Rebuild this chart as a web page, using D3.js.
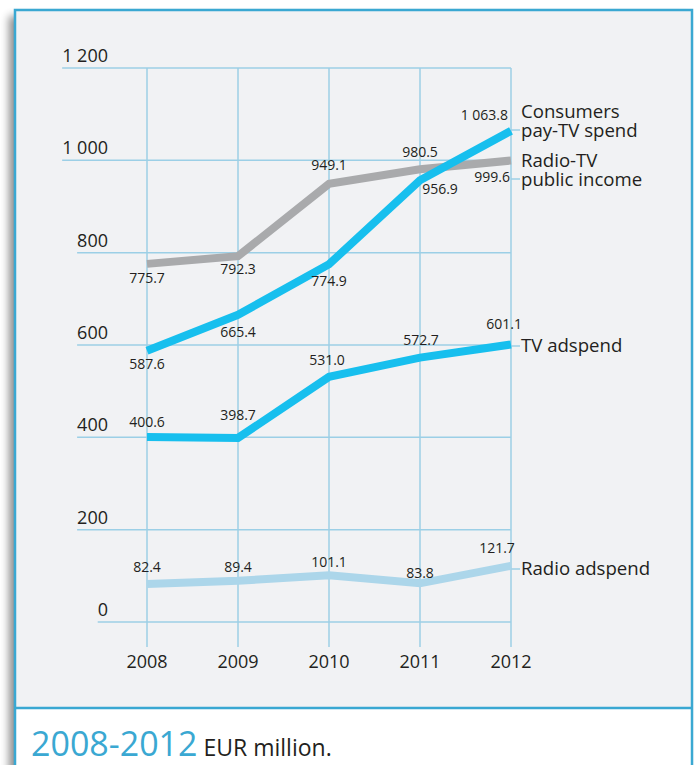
<!DOCTYPE html>
<html>
<head>
<meta charset="utf-8">
<script src="https://cdn.jsdelivr.net/npm/d3@7"></script>
<style>
  html, body { margin: 0; padding: 0; background: #ffffff; }
  svg { display: block; font-family: "Open Sans", "DejaVu Sans", sans-serif; }
</style>
</head>
<body>
<svg id="chart" width="696" height="765"></svg>
<script>
// ---- data ----
const years = [2008, 2009, 2010, 2011, 2012];
const yTicks = [0, 200, 400, 600, 800, 1000, 1200];
const payTV = [587.6, 665.4, 774.9, 956.9, 1063.8];
const publicIncome = [775.7, 792.3, 949.1, 980.5, 999.6];
const tvAdspend = [400.6, 398.7, 531.0, 572.7, 601.1];
const radioAdspend = [82.4, 89.4, 101.1, 83.8, 121.7];
const seriesNames = [["Consumers", "pay-TV spend"], ["Radio-TV", "public income"], ["TV adspend"], ["Radio adspend"]];
const titleMain = "2008-2012";
const titleSub = "EUR million.";

// ---- styles / placement ----
const COL_CYAN = "#17bfee", COL_GRAY = "#a9aaac", COL_LIGHT = "#acd6ea", COL_GRID = "#9ccfe6", COL_BORDER = "#3aa8d2";
const series = [
  { values: publicIncome, color: COL_GRAY, name: seriesNames[1], nameY: 167,
    place: [[0, 19, "middle"], [0, 18, "middle"], [0, -14, "middle"], [0, -12, "middle"], [-1, 21, "end"]] },
  { values: payTV, color: COL_CYAN, name: seriesNames[0], nameY: 118,
    place: [[0, 18, "middle"], [0, 22, "middle"], [0, 22, "middle"], [20, 14, "middle"], [-3, -11, "end"]] },
  { values: tvAdspend, color: COL_CYAN, name: seriesNames[2], nameY: 352,
    place: [[0, -10, "middle"], [0, -18, "middle"], [-2, -12, "middle"], [1, -13, "middle"], [11, -15, "end"]] },
  { values: radioAdspend, color: COL_LIGHT, name: seriesNames[3], nameY: 575,
    place: [[0, -12, "middle"], [0, -9, "middle"], [0, -8, "middle"], [0, -5, "middle"], [-14, -13, "middle"]] }
];

const svg = d3.select("#chart");
const defs = svg.append("defs");
const f = defs.append("filter").attr("id", "shadow").attr("x", "-10%").attr("y", "-10%").attr("width", "120%").attr("height", "120%");
f.append("feGaussianBlur").attr("in", "SourceAlpha").attr("stdDeviation", 4).attr("result", "b");
f.append("feOffset").attr("in", "b").attr("dx", -6).attr("dy", 6).attr("result", "o");
f.append("feComponentTransfer").attr("in", "o").attr("result", "s")
  .append("feFuncA").attr("type", "linear").attr("slope", 0.45);
const m = f.append("feMerge");
m.append("feMergeNode").attr("in", "s");
m.append("feMergeNode").attr("in", "SourceGraphic");

// panel
svg.append("rect").attr("x", 15).attr("y", 10).attr("width", 677).attr("height", 800)
  .attr("fill", "#ffffff").attr("filter", "url(#shadow)");
svg.append("rect").attr("x", 15).attr("y", 10).attr("width", 677).attr("height", 698)
  .attr("fill", "#f1f2f4");
svg.append("rect").attr("x", 15).attr("y", 10).attr("width", 677).attr("height", 800)
  .attr("fill", "none").attr("stroke", COL_BORDER).attr("stroke-width", 2.5);
svg.append("line").attr("x1", 15).attr("x2", 692).attr("y1", 708).attr("y2", 708)
  .attr("stroke", COL_BORDER).attr("stroke-width", 2.5);

// scales
const x = d3.scalePoint().domain(years).range([147, 511]);
const y = d3.scaleLinear().domain([0, 1200]).range([622, 68]);
const loc = d3.formatLocale({ decimal: ".", thousands: " ", grouping: [3], currency: ["", ""] });
const fmt = loc.format(",");
const fmt1 = loc.format(",.1f");

// vertical grid
svg.append("g").selectAll("line").data(years).join("line")
  .attr("x1", d => x(d)).attr("x2", d => x(d)).attr("y1", y(1200)).attr("y2", 647)
  .attr("stroke", COL_GRID).attr("stroke-width", 1.5);

// horizontal grid + tick labels
const tg = svg.append("g");
yTicks.forEach(t => {
  const txt = tg.append("text").attr("x", 108).attr("y", y(t) - 6).attr("text-anchor", "end")
    .attr("font-size", 18).attr("fill", "#231f20").text(fmt(t));
  const bb = txt.node().getBBox();
  tg.insert("line", "text").attr("x1", bb.x).attr("x2", x(2012)).attr("y1", y(t)).attr("y2", y(t))
    .attr("stroke", COL_GRID).attr("stroke-width", 1.5);
});

// year labels
svg.append("g").selectAll("text").data(years).join("text")
  .attr("x", d => x(d)).attr("y", 668).attr("text-anchor", "middle")
  .attr("font-size", 18).attr("fill", "#231f20").text(d => d);

// leader dashes
series.forEach(s => {
  const ly = s.name.length > 1 ? s.nameY + 12 : s.nameY - 6;
  svg.append("line").attr("x1", x(2012)).attr("x2", 520).attr("y1", ly).attr("y2", ly)
    .attr("stroke", COL_GRID).attr("stroke-width", 1.5);
});

// lines
const line = d3.line().x((d, i) => x(years[i])).y(d => y(d));
series.forEach(s => {
  svg.append("path").datum(s.values).attr("d", line).attr("fill", "none")
    .attr("stroke", s.color).attr("stroke-width", 8).attr("stroke-linejoin", "miter");
});

// value labels + series names
series.forEach(s => {
  svg.append("g").selectAll("text").data(s.values).join("text")
    .attr("x", (d, i) => x(years[i]) + s.place[i][0])
    .attr("y", (d, i) => y(d) + s.place[i][1])
    .attr("text-anchor", (d, i) => s.place[i][2])
    .attr("font-size", 14).attr("fill", "#231f20").text(d => fmt1(d));
  const nt = svg.append("text").attr("x", 521).attr("y", s.nameY).attr("font-size", 18.6).attr("fill", "#231f20");
  s.name.forEach((n, k) => {
    nt.append("tspan").attr("x", 521).attr("dy", k === 0 ? 0 : 18.5).text(n);
  });
});

// title
const tt = svg.append("text").attr("x", 31).attr("y", 756);
tt.append("tspan").attr("font-size", 34).attr("fill", COL_BORDER).text(titleMain);
tt.append("tspan").attr("font-size", 23).attr("fill", "#231f20").attr("dx", 6).text(titleSub);
</script>
</body>
</html>
